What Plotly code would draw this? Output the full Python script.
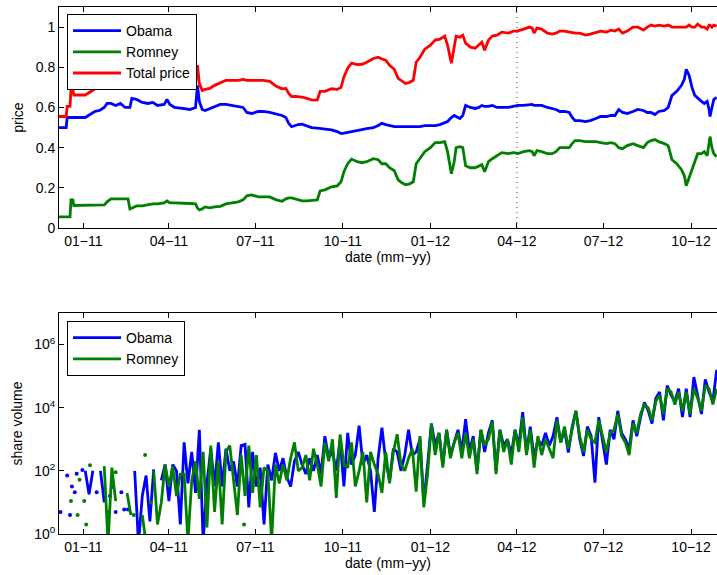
import plotly.graph_objects as go
import pandas as pd

# ---------------- top panel: prices ----------------
price_dates = [
    "2010-12-06", "2010-12-14", "2010-12-15", "2010-12-18", "2010-12-19", "2010-12-21", "2010-12-22",
    "2011-01-03", "2011-01-08", "2011-01-13", "2011-01-18", "2011-01-23", "2011-01-26", "2011-01-30",
    "2011-02-04", "2011-02-09", "2011-02-14", "2011-02-17", "2011-02-19", "2011-02-21", "2011-02-26",
    "2011-03-04", "2011-03-10", "2011-03-15", "2011-03-20", "2011-03-27", "2011-03-30", "2011-04-02",
    "2011-04-07", "2011-04-15", "2011-04-23", "2011-04-29", "2011-05-01", "2011-05-03", "2011-05-06",
    "2011-05-09", "2011-05-14", "2011-05-19", "2011-05-25", "2011-05-31", "2011-06-06", "2011-06-13",
    "2011-06-18", "2011-06-22", "2011-06-27", "2011-07-04", "2011-07-09", "2011-07-16", "2011-07-23",
    "2011-07-29", "2011-08-02", "2011-08-05", "2011-08-08", "2011-08-12", "2011-08-15", "2011-08-19",
    "2011-08-24", "2011-08-29", "2011-09-04", "2011-09-07", "2011-09-12", "2011-09-19", "2011-09-25",
    "2011-09-29", "2011-10-02", "2011-10-06", "2011-10-10", "2011-10-16", "2011-10-21", "2011-10-26",
    "2011-11-02", "2011-11-07", "2011-11-11", "2011-11-15", "2011-11-19", "2011-11-24", "2011-11-28",
    "2011-12-02", "2011-12-06", "2011-12-10", "2011-12-14", "2011-12-17", "2011-12-21", "2011-12-26",
    "2012-01-01", "2012-01-06", "2012-01-11", "2012-01-16", "2012-01-19", "2012-01-23", "2012-01-26",
    "2012-01-28", "2012-02-01", "2012-02-04", "2012-02-07", "2012-02-12", "2012-02-17", "2012-02-21",
    "2012-02-24", "2012-02-27", "2012-03-02", "2012-03-06", "2012-03-11", "2012-03-16", "2012-03-23",
    "2012-03-28", "2012-04-02", "2012-04-08", "2012-04-14", "2012-04-17", "2012-04-19", "2012-04-22",
    "2012-04-27", "2012-05-03", "2012-05-08", "2012-05-12", "2012-05-16", "2012-05-21", "2012-05-26",
    "2012-05-29", "2012-06-01", "2012-06-06", "2012-06-12", "2012-06-17", "2012-06-23", "2012-06-28",
    "2012-07-04", "2012-07-09", "2012-07-13", "2012-07-17", "2012-07-21", "2012-07-26", "2012-08-01",
    "2012-08-06", "2012-08-12", "2012-08-16", "2012-08-20", "2012-08-24", "2012-08-28", "2012-09-03",
    "2012-09-07", "2012-09-11", "2012-09-16", "2012-09-21", "2012-09-24", "2012-09-26", "2012-09-29",
    "2012-10-02", "2012-10-05", "2012-10-08", "2012-10-12", "2012-10-15", "2012-10-18", "2012-10-20",
    "2012-10-21", "2012-10-23", "2012-10-25", "2012-10-28",
]
obama_price = [
    0.50, 0.50, 0.55, 0.55, 0.55, 0.55, 0.55,
    0.55, 0.565, 0.58, 0.585, 0.60, 0.62, 0.62,
    0.61, 0.62, 0.60, 0.60, 0.60, 0.645, 0.64,
    0.625, 0.62, 0.625, 0.61, 0.615, 0.64, 0.615,
    0.60, 0.595, 0.59, 0.60, 0.71, 0.63, 0.59,
    0.585, 0.595, 0.605, 0.615, 0.615, 0.61, 0.605,
    0.60, 0.575, 0.57, 0.58, 0.58, 0.575, 0.565,
    0.56, 0.55, 0.52, 0.504, 0.51, 0.515, 0.517,
    0.51, 0.50, 0.497, 0.495, 0.49, 0.488, 0.48,
    0.47, 0.472, 0.475, 0.478, 0.483, 0.49, 0.495,
    0.499, 0.51, 0.521, 0.515, 0.51, 0.505, 0.505,
    0.505, 0.504, 0.505, 0.505, 0.505, 0.505, 0.51,
    0.51, 0.51, 0.515, 0.525, 0.53, 0.55, 0.56,
    0.555, 0.545, 0.56, 0.61, 0.60, 0.595, 0.60,
    0.61, 0.605, 0.605, 0.61, 0.60, 0.60, 0.60,
    0.605, 0.61, 0.61, 0.615, 0.615, 0.61, 0.61,
    0.61, 0.60, 0.595, 0.59, 0.58, 0.58, 0.575,
    0.55, 0.535, 0.535, 0.53, 0.535, 0.545, 0.555,
    0.555, 0.56, 0.56, 0.59, 0.575, 0.57, 0.58,
    0.59, 0.585, 0.575, 0.575, 0.565, 0.58, 0.585,
    0.60, 0.66, 0.68, 0.71, 0.74, 0.79, 0.76,
    0.70, 0.66, 0.645, 0.63, 0.62, 0.63, 0.59,
    0.555, 0.60, 0.64, 0.65,
]
romney_price = [
    0.055, 0.055, 0.055, 0.055, 0.14, 0.14, 0.112,
    0.112, 0.112, 0.112, 0.112, 0.115, 0.13, 0.145,
    0.145, 0.145, 0.145, 0.145, 0.095, 0.10, 0.11,
    0.11, 0.115, 0.12, 0.12, 0.125, 0.135, 0.125,
    0.125, 0.125, 0.122, 0.12, 0.10, 0.09, 0.095,
    0.105, 0.10, 0.105, 0.108, 0.12, 0.125, 0.13,
    0.14, 0.16, 0.165, 0.155, 0.155, 0.155, 0.14,
    0.133, 0.145, 0.15, 0.15, 0.145, 0.14, 0.135,
    0.135, 0.138, 0.14, 0.185, 0.19, 0.205, 0.21,
    0.23, 0.28, 0.32, 0.343, 0.33, 0.325, 0.33,
    0.345, 0.34, 0.32, 0.32, 0.30, 0.285, 0.24,
    0.225, 0.215, 0.22, 0.23, 0.32, 0.345, 0.38,
    0.40, 0.425, 0.425, 0.43, 0.38, 0.27, 0.33,
    0.40, 0.405, 0.40, 0.31, 0.30, 0.30, 0.31,
    0.315, 0.28, 0.33, 0.345, 0.36, 0.375, 0.37,
    0.375, 0.371, 0.38, 0.385, 0.38, 0.36, 0.385,
    0.38, 0.37, 0.37, 0.38, 0.40, 0.40, 0.40,
    0.42, 0.435, 0.435, 0.43, 0.43, 0.43, 0.425,
    0.42, 0.425, 0.42, 0.40, 0.395, 0.41, 0.42,
    0.41, 0.40, 0.425, 0.435, 0.44, 0.43, 0.42,
    0.41, 0.34, 0.32, 0.29, 0.26, 0.21, 0.25,
    0.30, 0.34, 0.37, 0.37, 0.38, 0.36, 0.42,
    0.455, 0.40, 0.37, 0.355,
]
total_price = [o + r for o, r in zip(obama_price, romney_price)]

marker_date = "2012-04-01"

# ---------------- bottom panel: share volume ----------------
vol_dates = pd.date_range("2010-12-06", periods=174, freq="4D")
N = None
obama_vol = [
    N, N, N, N, N, N, N, 100, 18, 100,
    N, 100, 10, N, N, N, N, N, N, N,
    100, 0.5, 16, 71, 2.5, 112, N, 50, 158, 11,
    158, 100, 2, 794, 40, 398, 20, 1995, 0.6, 40,
    501, 32, 794, 32, 501, 100, 200, 32, 631, 692,
    7, 398, 32, 126, 2, 158, 50, 372, 100, 251,
    63, 32, 200, 398, 158, 79, 251, 100, 316, 79,
    1259, 251, 398, 100, 1000, 32, 1585, 158, 316, 2692,
    158, 316, 100, 5, 251, 2344, 200, 50, 501, 398,
    100, 316, 1995, 316, 398, 1000, 10, 158, 3162, 631,
    1585, 158, 1995, 316, 794, 1995, 398, 4365, 398, 1259,
    100, 1995, 398, 1585, 3981, 100, 1995, 631, 1000, 316,
    1995, 631, 7244, 398, 2512, 251, 1000, 631, 1585, 631,
    1259, 5012, 794, 1995, 380, 2512, 7943, 1000, 295, 2512,
    1259, 42, 5012, 1000, 158, 1995, 1000, 7943, 1585, 1000,
    501, 3981, 1259, 5012, 14791, 7943, 3162, 19953, 31623, 3981,
    50119, 25119, 15849, 39811, 5012, 39811, 5012, 93325, 25119, 6310,
    79433, 31623, 15849, 158489,
]
romney_vol = [
    N, N, N, N, N, N, N, N, N, N,
    N, N, 141, 0.5, 126, 11, N, N, 20, 4,
    N, N, 4, 0.5, N, 100, 2, 10, 158, 32,
    141, 16, 79, 79, 0.6, 50, 200, 13, 398, 1.6,
    631, 5, 200, 2, 398, 631, 40, 4, 316, 16,
    631, 20, 316, 7, 126, 100, 0.6, 158, 40, 158,
    50, 251, 794, 100, 126, 316, 50, 501, 158, 32,
    794, 200, 1000, 14, 1413, 158, 126, 794, 32, 100,
    398, 10, 398, 158, 79, 20, 398, 40, 398, 1445,
    158, 100, 251, 501, 22, 1259, 7, 79, 3020, 316,
    1585, 126, 1995, 251, 794, 1585, 251, 1585, 251, 1000,
    79, 1995, 631, 1000, 3548, 79, 1995, 398, 1000, 158,
    1995, 398, 5012, 316, 1995, 126, 1259, 316, 1000, 501,
    251, 3981, 794, 2512, 501, 1995, 7943, 1259, 398, 1995,
    1000, 794, 3981, 1259, 398, 1585, 1995, 6310, 1259, 794,
    316, 3162, 1585, 6310, 12589, 10000, 3981, 15849, 25119, 6310,
    39811, 31623, 12589, 31623, 7943, 31623, 6310, 39811, 19953, 7943,
    50119, 39811, 12589, 39811,
]

# isolated single-day trades (shown as dots)
obama_dot_dates = ["2010-12-08", "2010-12-15", "2010-12-18", "2010-12-20", "2010-12-23", "2010-12-25",
                   "2010-12-31", "2011-01-15", "2011-01-29", "2011-01-31", "2011-02-04", "2011-02-10",
                   "2011-02-13", "2011-02-17"]
obama_dot_vol = [5, 71, 4, 32, 21, 81, 107, 21, 16, 31, 5, 21, 6, 6]
romney_dot_dates = ["2010-12-19", "2010-12-26", "2010-12-28", "2011-01-02", "2011-01-04", "2011-01-08",
                    "2011-01-28", "2011-02-04", "2011-02-23", "2011-03-07", "2011-03-13", "2011-06-19"]
romney_dot_vol = [11, 4, 52, 11, 2, 151, 5, 91, 4, 316, 10, 2]

tick_dates = ["2011-01-01", "2011-04-01", "2011-07-01", "2011-10-01",
              "2012-01-01", "2012-04-01", "2012-07-01", "2012-10-01"]
tick_text = ["01\u221211", "04\u221211", "07\u221211", "10\u221211",
             "01\u221212", "04\u221212", "07\u221212", "10\u221212"]

BLUE = "rgb(0,0,255)"
GREEN = "rgb(0,128,0)"
RED = "rgb(255,0,0)"
FONT = "Liberation Sans, Arial, Helvetica, sans-serif"

fig = go.Figure()
fig.add_trace(go.Scatter(x=price_dates, y=obama_price, name="Obama", mode="lines",
                         line=dict(color=BLUE, width=2.8), xaxis="x", yaxis="y", legend="legend"))
fig.add_trace(go.Scatter(x=price_dates, y=romney_price, name="Romney", mode="lines",
                         line=dict(color=GREEN, width=2.8), xaxis="x", yaxis="y", legend="legend"))
fig.add_trace(go.Scatter(x=price_dates, y=total_price, name="Total price", mode="lines",
                         line=dict(color=RED, width=2.8), xaxis="x", yaxis="y", legend="legend"))

fig.add_trace(go.Scatter(x=vol_dates, y=obama_vol, name="Obama", mode="lines",
                         line=dict(color=BLUE, width=2.8), connectgaps=False,
                         xaxis="x2", yaxis="y2", legend="legend2"))
fig.add_trace(go.Scatter(x=obama_dot_dates, y=obama_dot_vol, mode="markers", showlegend=False,
                         marker=dict(color=BLUE, size=4), xaxis="x2", yaxis="y2"))
fig.add_trace(go.Scatter(x=vol_dates, y=romney_vol, name="Romney", mode="lines",
                         line=dict(color=GREEN, width=2.8), connectgaps=False,
                         xaxis="x2", yaxis="y2", legend="legend2"))
fig.add_trace(go.Scatter(x=romney_dot_dates, y=romney_dot_vol, mode="markers", showlegend=False,
                         marker=dict(color=GREEN, size=4), xaxis="x2", yaxis="y2"))

fig.add_shape(type="line", xref="x", yref="y domain", x0=marker_date, x1=marker_date, y0=0, y1=1,
              line=dict(color="rgb(60,60,60)", width=1, dash="1px,4px"))

xrange = ["2010-12-06 10:00", "2012-10-28 08:00"]
axis_common = dict(showline=True, linecolor="black", linewidth=1, ticks="inside", ticklen=5,
                   tickcolor="black", showgrid=False, zeroline=False,
                   tickfont=dict(family=FONT, size=14, color="black"))

fig.update_layout(
    width=717, height=575,
    margin=dict(l=59, r=0, t=7, b=41),
    paper_bgcolor="white", plot_bgcolor="white",
    font=dict(family=FONT, size=14, color="black"),
    xaxis=dict(domain=[0, 1], anchor="y", range=xrange, tickvals=tick_dates, ticktext=tick_text,
               mirror="ticks", title=dict(text="date (mm\u2212yy)", standoff=2,
                                          font=dict(family=FONT, size=14)), **axis_common),
    yaxis=dict(domain=[0.5806, 1], anchor="x", range=[0, 1.1],
               tickvals=[0, 0.2, 0.4, 0.6, 0.8, 1], ticktext=["0", "0.2", "0.4", "0.6", "0.8", "1"],
               title=dict(text="price", standoff=8, font=dict(family=FONT, size=14)), **axis_common),
    xaxis2=dict(domain=[0, 1], anchor="y2", range=xrange, tickvals=tick_dates, ticktext=tick_text,
                mirror="ticks", title=dict(text="date (mm\u2212yy)", standoff=2,
                                           font=dict(family=FONT, size=14)), **axis_common),
    yaxis2=dict(domain=[0, 0.4194], anchor="x2", type="log", range=[0, 7],
                tickvals=[1, 100, 10000, 1000000],
                ticktext=["10<sup>0</sup>", "10<sup>2</sup>", "10<sup>4</sup>", "10<sup>6</sup>"],
                title=dict(text="share volume", standoff=8, font=dict(family=FONT, size=14)),
                **axis_common),
    legend=dict(x=0.0122, y=0.9867, xanchor="left", yanchor="top", bgcolor="white",
                bordercolor="black", borderwidth=1, font=dict(family=FONT, size=14),
                itemwidth=48, tracegroupgap=0),
    legend2=dict(x=0.0122, y=0.404, xanchor="left", yanchor="top", bgcolor="white",
                 bordercolor="black", borderwidth=1, font=dict(family=FONT, size=14),
                 itemwidth=48, tracegroupgap=0),
    showlegend=True,
)

fig.write_html("out.html", config={"displayModeBar": False},
               post_script="document.body.style.margin='0';document.body.style.overflow='hidden';")
